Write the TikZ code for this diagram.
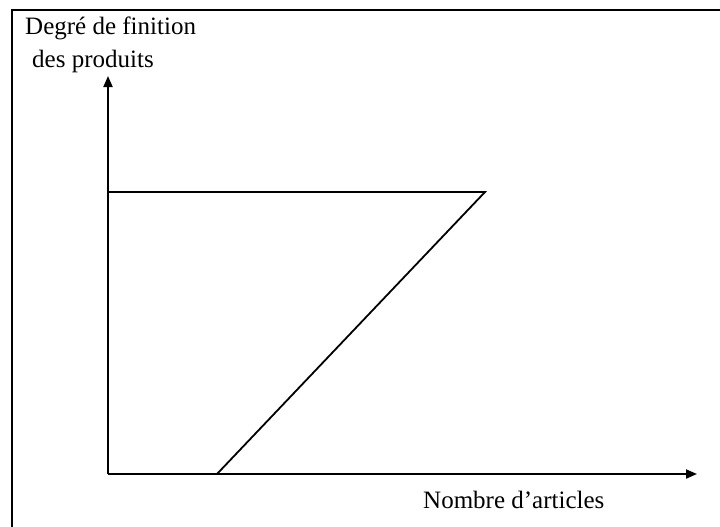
\documentclass[tikz,border=0pt]{standalone}
\usepackage{fontspec}
\setmainfont{Liberation Serif}
\usetikzlibrary{arrows.meta}
\begin{document}
\begin{tikzpicture}[x=1pt,y=-1pt,
  axis/.style={line width=2pt,-{Triangle[length=11pt,width=9pt]}},
  curve/.style={line width=1.8pt},
  lbl/.style={anchor=base west,inner sep=0pt,font=\fontsize{25}{29}\selectfont}]
\useasboundingbox (0,0) rectangle (720,527);
\draw[line width=2.2pt] (12,527) -- (12,10) -- (720,10);
\coordinate (O) at (108,474);
\coordinate (ytip) at (108,76);
\coordinate (xtip) at (697,474);
\coordinate (A) at (108,192);
\coordinate (B) at (485,192);
\coordinate (C) at (217,474);
\draw[axis] (O) -- (ytip);
\draw[axis] (O) -- (xtip);
\draw[curve] (A) -- (B) -- (C);
\node[lbl] (t1) at (25,35) {Degré de finition};
\node[lbl] (t2) at (32,67) {des produits};
\node[lbl] (t3) at (423,508) {Nombre d’articles};
\end{tikzpicture}
\end{document}
